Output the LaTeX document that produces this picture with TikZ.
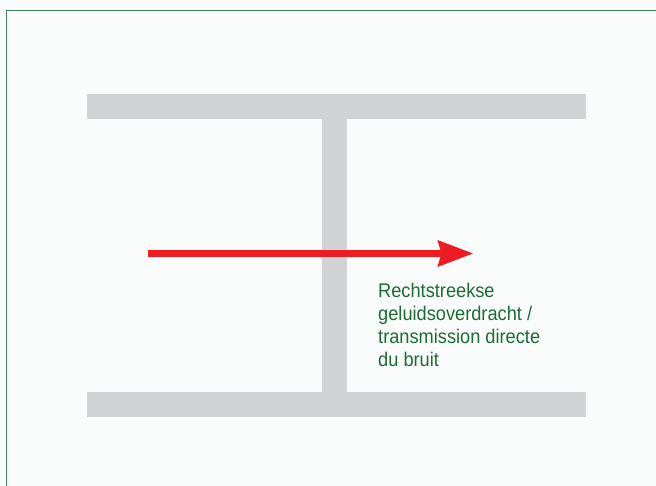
\documentclass[tikz,border=0pt]{standalone}
\usepackage{fontspec}
\setmainfont{Liberation Sans}
\newfontfamily\labelfont[FakeStretch=0.92]{Liberation Sans}
\usetikzlibrary{arrows.meta}
\definecolor{FrameGreen}{HTML}{3A875B}
\definecolor{TextGreen}{HTML}{1B6B34}
\definecolor{SlabGrey}{HTML}{D1D2D4}
\definecolor{SoundRed}{HTML}{ED1C24}
\definecolor{PaperTint}{HTML}{FAFCFB}
\tikzset{
  Slab/.style={fill=SlabGrey, draw=none},
  SoundPath/.style={
    SoundRed, line width=7.3pt,
    -{Stealth[length=35pt,width=25pt,inset=3pt]}
  },
  PathLabel/.style={
    TextGreen, inner sep=0pt, anchor=north west, align=left,
    font=\labelfont\fontsize{19.8}{23.3}\selectfont
  }
}

\begin{document}
\begin{tikzpicture}[x=1pt, y=-1pt]
    \def\W{656}
    \def\H{486}
    \path[use as bounding box, fill=PaperTint] (0,0) rectangle (\W,\H);
    % frame, only left and top edges fall inside the picture
    \draw[FrameGreen, line width=1.7pt] (6.6,\H+5) -- (6.6,10.6) -- (\W+5,10.6);

    % floors and wall
    \fill[Slab] (87,94) rectangle (586,119);
    \fill[Slab] (322,119) rectangle (347,392);
    \fill[Slab] (87,392) rectangle (586,417);

    % direct transmission
    \coordinate (SoundFrom) at (148,253.5);
    \coordinate (SoundTo) at (473.5,253.5);
    \draw[SoundPath] (SoundFrom) -- (SoundTo);

    \node[PathLabel] (Direct) at (378,282.5)
      {Rechtstreekse\\geluidsoverdracht /\\transmission directe\\du bruit};
\end{tikzpicture}
\end{document}
